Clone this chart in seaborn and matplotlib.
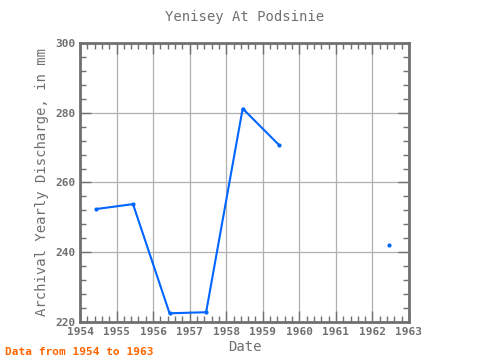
import numpy as np
import pandas as pd
import matplotlib
matplotlib.use('Agg')
import matplotlib.pyplot as plt
import seaborn as sns
from matplotlib.ticker import MultipleLocator

# yearly values (1960, 1961 missing)
years = [1954.45, 1955.45, 1956.45, 1957.45, 1958.45, 1959.45, 1962.45]
discharge = [252.4, 253.8, 222.5, 222.8, 281.2, 270.7, 242.1]
segment = [0, 0, 0, 0, 0, 0, 1]
xtick_years = list(range(1954, 1964))

df = pd.DataFrame({'year': years, 'discharge': discharge, 'seg': segment})

sns.set_style('white')
plt.rcParams['font.family'] = ['DejaVu Sans Mono']
plt.rcParams['font.weight'] = 'bold'

GREY = '#707070'
fig = plt.figure(figsize=(4.8, 3.6), dpi=100)
ax = fig.add_axes([80/480, 1 - 322/360, 329/480, 279/360])

sns.lineplot(data=df, x='year', y='discharge', units='seg', estimator=None,
             color='#0066FF', linewidth=1.5, marker='o', markersize=3,
             markeredgewidth=0, ax=ax)

ax.set_xlim(1954, 1963)
ax.set_ylim(220, 300)
ax.set_xticks(xtick_years)
ax.set_xticklabels([str(y) for y in xtick_years])
ax.xaxis.set_minor_locator(MultipleLocator(0.2))
ax.set_yticks([220, 240, 260, 280, 300])
ax.yaxis.set_minor_locator(MultipleLocator(4))
ax.grid(True, which='major', color='#b0b0b0', linewidth=0.9)
ax.tick_params(which='both', direction='in', top=True, right=True,
               bottom=True, left=True, color=GREY, labelcolor=GREY, labelsize=8)
ax.tick_params(which='major', length=8, width=1)
ax.tick_params(which='minor', length=4, width=1)
for sp in ax.spines.values():
    sp.set_color(GREY)
    sp.set_linewidth(2)

ax.set_xlabel('Date', color=GREY, fontsize=10, labelpad=2)
ax.set_ylabel('Archival Yearly Discharge, in mm', color=GREY, fontsize=10)
ax.set_title('Yenisey At Podsinie', color=GREY, fontsize=10, pad=16)
fig.text(5/480, 1 - 352/360, 'Data from 1954 to 1963', color='#FF6600',
         fontsize=8, fontweight='bold', va='center')

fig.savefig('out.png', dpi=100)
